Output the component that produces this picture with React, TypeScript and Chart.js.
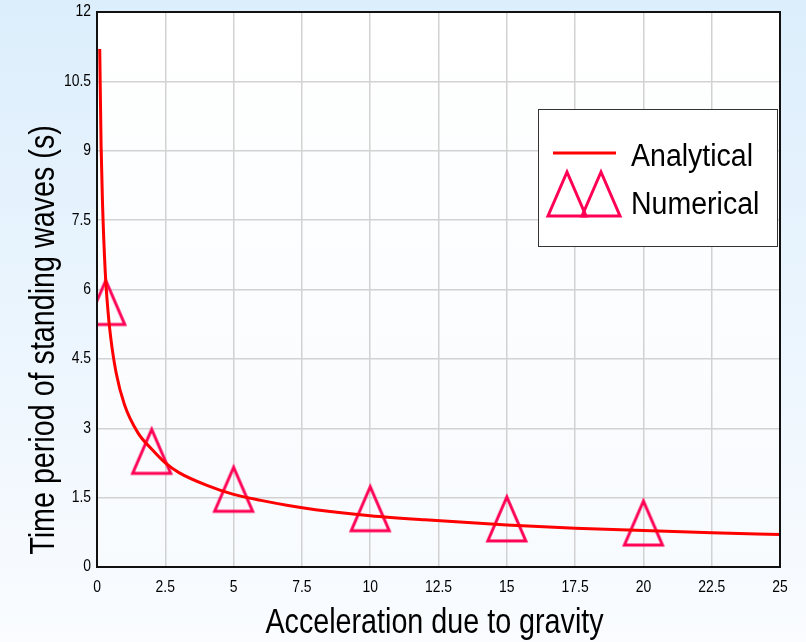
import React, { useEffect, useRef } from "react";
import { Chart, registerables } from "chart.js";

Chart.register(...registerables);

// Analytical curve, values
const analyticalX = [0.1, 0.15, 0.2, 0.3, 0.4, 0.5, 0.7, 1, 1.5, 2, 2.5, 3, 4, 5, 6, 7, 8, 10, 12, 15, 17.5, 20, 22.5, 25];
const analyticalY = [11.2, 9.1, 7.9, 6.4, 5.55, 4.97, 4.2, 3.52, 2.9, 2.55, 2.25, 2.04, 1.77, 1.57, 1.44, 1.33, 1.24, 1.11, 1.02, 0.91, 0.84, 0.79, 0.74, 0.7];

// Numerical points
const numericalX = [0.32, 2, 5, 10, 15, 20];
const numericalY = [5.72, 2.5, 1.68, 1.26, 1.04, 0.95];

const xTicks = [0, 2.5, 5, 7.5, 10, 12.5, 15, 17.5, 20, 22.5, 25];
const yTicks = [0, 1.5, 3, 4.5, 6, 7.5, 9, 10.5, 12];

const xTitle = "Acceleration due to gravity";
const yTitle = "Time period of standing waves (s)";
const seriesNames = ["Analytical", "Numerical"];

const FONT = "'Liberation Sans', Arial, sans-serif";
const TRI_COLOR = "rgb(255,0,85)";
const LINE_COLOR = "rgb(255,0,0)";

function makeTriangle(): HTMLCanvasElement {
  const c = document.createElement("canvas");
  c.width = 46;
  c.height = 54;
  const ctx = c.getContext("2d")!;
  ctx.strokeStyle = TRI_COLOR;
  ctx.lineWidth = 3;
  ctx.lineJoin = "miter";
  ctx.beginPath();
  ctx.moveTo(23, 5);
  ctx.lineTo(4, 49);
  ctx.lineTo(42, 49);
  ctx.closePath();
  ctx.stroke();
  return c;
}

function narrowText(ctx: CanvasRenderingContext2D, text: string, x: number, y: number, align: "left" | "center" | "right", sx: number) {
  ctx.save();
  ctx.translate(x, y);
  ctx.scale(sx, 1);
  ctx.textAlign = align;
  ctx.fillText(text, 0, 0);
  ctx.restore();
}

export default function App() {
  const ref = useRef<HTMLCanvasElement | null>(null);

  useEffect(() => {
    const tri = makeTriangle();

    const bgPlugin = {
      id: "bg",
      beforeDraw(chart: any) {
        const { ctx, width, height, chartArea } = chart;
        ctx.save();
        const g = ctx.createLinearGradient(0, 0, 0, height);
        g.addColorStop(0, "rgb(220,238,252)");
        g.addColorStop(1, "rgb(250,252,255)");
        ctx.fillStyle = g;
        ctx.fillRect(0, 0, width, height);
        const g2 = ctx.createLinearGradient(0, chartArea.top, 0, chartArea.bottom);
        g2.addColorStop(0, "#ffffff");
        g2.addColorStop(1, "rgb(248,251,254)");
        ctx.fillStyle = g2;
        ctx.fillRect(chartArea.left, chartArea.top, chartArea.right - chartArea.left, chartArea.bottom - chartArea.top);
        ctx.restore();
      },
      afterDraw(chart: any) {
        const { ctx, chartArea } = chart;
        const { left, right, top, bottom } = chartArea;
        const xs = chart.scales.x;
        const ys = chart.scales.y;
        ctx.save();
        // plot border
        ctx.strokeStyle = "#111";
        ctx.lineWidth = 2;
        ctx.strokeRect(left, top, right - left, bottom - top);

        // tick labels
        ctx.fillStyle = "#000";
        ctx.font = `16px ${FONT}`;
        ctx.textBaseline = "middle";
        xTicks.forEach((v) => {
          narrowText(ctx, String(v), xs.getPixelForValue(v), 588, "center", 0.87);
        });
        yTicks.forEach((v) => {
          narrowText(ctx, String(v), left - 6, ys.getPixelForValue(v), "right", 0.87);
        });

        // axis titles
        ctx.font = `35px ${FONT}`;
        ctx.textBaseline = "alphabetic";
        narrowText(ctx, xTitle, (left + right) / 2 - 4, 633, "center", 0.82);
        ctx.save();
        ctx.translate(54, 340);
        ctx.rotate(-Math.PI / 2);
        narrowText(ctx, yTitle, 0, 0, "center", 0.82);
        ctx.restore();

        // legend
        const lx = 538, ly = 109, lw = 239, lh = 137;
        ctx.fillStyle = "#fff";
        ctx.fillRect(lx, ly, lw, lh);
        ctx.strokeStyle = "#333";
        ctx.lineWidth = 1;
        ctx.strokeRect(lx + 0.5, ly + 0.5, lw, lh);
        ctx.strokeStyle = LINE_COLOR;
        ctx.lineWidth = 3;
        ctx.beginPath();
        ctx.moveTo(553, 153);
        ctx.lineTo(616, 153);
        ctx.stroke();
        ctx.drawImage(tri, 567 - 23, 194 - 27, 46, 54);
        ctx.drawImage(tri, 601 - 23, 194 - 27, 46, 54);
        ctx.fillStyle = "#000";
        ctx.font = `31px ${FONT}`;
        narrowText(ctx, seriesNames[0], 631, 166, "left", 0.92);
        narrowText(ctx, seriesNames[1], 631, 214, "left", 0.92);
        ctx.restore();
      },
    };

    const chart = new Chart(ref.current!, {
      type: "scatter",
      data: {
        datasets: [
          {
            label: seriesNames[0],
            data: analyticalX.map((x, i) => ({ x, y: analyticalY[i] })),
            showLine: true,
            borderColor: LINE_COLOR,
            borderWidth: 3,
            pointRadius: 0,
            cubicInterpolationMode: "monotone",
            fill: false,
          },
          {
            label: seriesNames[1],
            data: numericalX.map((x, i) => ({ x, y: numericalY[i] })),
            showLine: false,
            pointStyle: tri,
            pointRadius: 23,
            borderColor: TRI_COLOR,
            backgroundColor: "transparent",
          },
        ],
      },
      options: {
        animation: false,
        responsive: true,
        maintainAspectRatio: false,
        layout: { autoPadding: false, padding: { top: 12, right: 26, left: 0, bottom: 0 } },
        plugins: { legend: { display: false }, tooltip: { enabled: false } },
        scales: {
          x: {
            type: "linear",
            min: 0,
            max: 25,
            afterFit(scale: any) {
              scale.height = 75;
            },
            afterBuildTicks(scale: any) {
              scale.ticks = xTicks.map((v) => ({ value: v }));
            },
            ticks: { display: false },
            grid: { color: "#d2d2d2", lineWidth: 1.5, drawTicks: false },
            border: { display: false },
          },
          y: {
            type: "linear",
            min: 0,
            max: 12,
            afterFit(scale: any) {
              scale.width = 97;
            },
            afterBuildTicks(scale: any) {
              scale.ticks = yTicks.map((v) => ({ value: v }));
            },
            ticks: { display: false },
            grid: { color: "#d2d2d2", lineWidth: 1.5, drawTicks: false },
            border: { display: false },
          },
        },
      },
      plugins: [bgPlugin],
    });
    return () => chart.destroy();
  }, []);

  return (
    <div style={{ position: "fixed", left: 0, top: 0, width: 806, height: 642 }}>
      <canvas ref={ref} />
    </div>
  );
}
